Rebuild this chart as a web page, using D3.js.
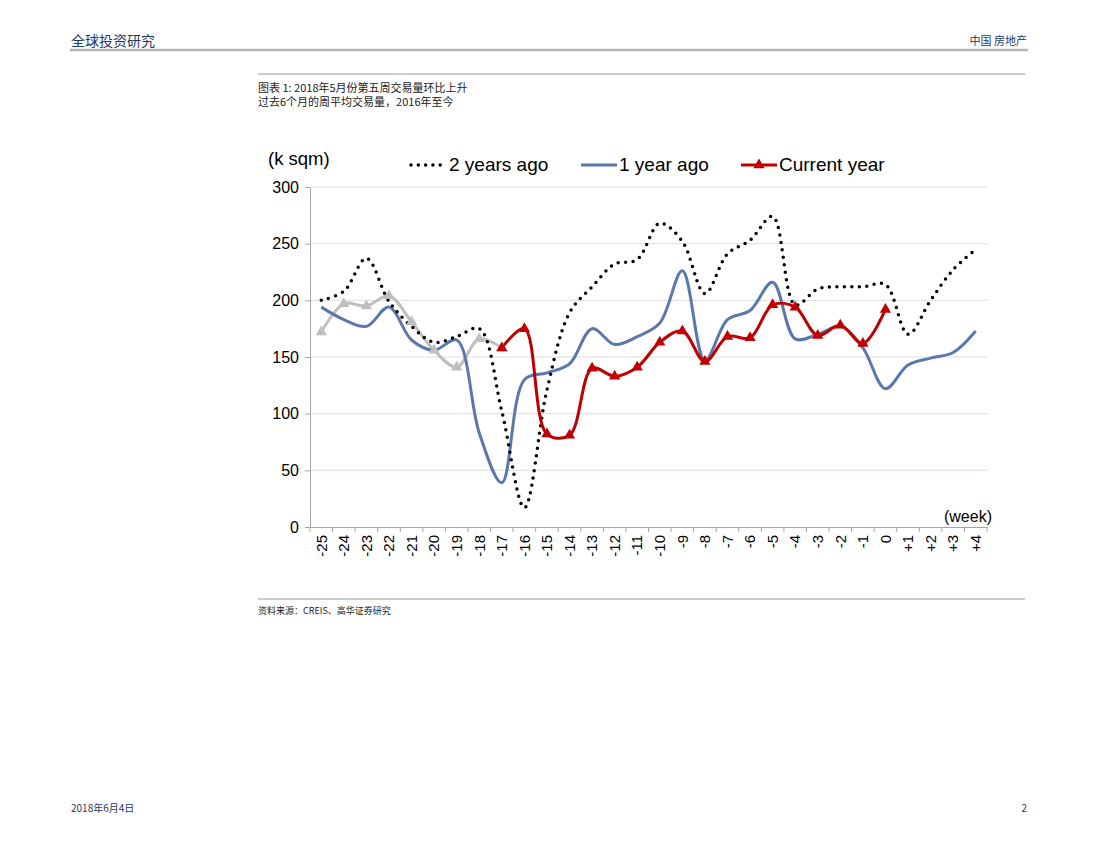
<!DOCTYPE html>
<html>
<head>
<meta charset="utf-8">
<script src="https://cdn.jsdelivr.net/npm/d3@7"></script>
<style>
  body { margin: 0; background: #fff; }
  text { font-family: "Liberation Sans", Arial, sans-serif; }
  .cjk { font-family: "Noto Sans CJK SC", sans-serif; }
</style>
</head>
<body>
<div class="myChart"></div>
<script>
const weeks = ["-25","-24","-23","-22","-21","-20","-19","-18","-17","-16","-15","-14","-13","-12","-11","-10",
               "-9","-8","-7","-6","-5","-4","-3","-2","-1","0","+1","+2","+3","+4"];
const twoYearsAgo = [200,208,237,199,177,163,168,175,102,17,121,189,212,232,236,268,
                     252,206,241,253,274,196,210,212,212,214,170,200,227,245];
const oneYearAgo = [194,183,177,194,165,156,165,83,39,130,136,144,175,161,168,180,
                    226,147,183,191,216,166,170,177,158,122,143,149,154,173];
const currentEarly = [172,197,195,204,181,156,141,166,158];   // -25 .. -17 (grey)
const currentYear = [158,175,82,81,140,133,141,163,173,146,168,167,196,194,169,178,162,192]; // -17 .. 0
const yTicks = [0,50,100,150,200,250,300];

const W = 1100, H = 850;
const svg = d3.select(".myChart").append("svg").attr("width", W).attr("height", H);

// page header / footer
svg.append("text").attr("class", "cjk").attr("x", 71).attr("y", 46)
  .attr("font-size", 14).attr("fill", "#1f3864").text("全球投资研究");
svg.append("text").attr("class", "cjk").attr("x", 1027).attr("y", 45).attr("text-anchor", "end")
  .attr("font-size", 11).attr("fill", "#1f3864").text("中国 房地产");
svg.append("line").attr("x1", 70).attr("x2", 1028).attr("y1", 50).attr("y2", 50)
  .attr("stroke", "#b3b3b3").attr("stroke-width", 2.5);
svg.append("line").attr("x1", 258).attr("x2", 1025).attr("y1", 74).attr("y2", 74)
  .attr("stroke", "#999").attr("stroke-width", 1);
svg.append("text").attr("class", "cjk").attr("x", 258).attr("y", 92)
  .attr("font-size", 11).attr("fill", "#222").text("图表 1: 2018年5月份第五周交易量环比上升");
svg.append("text").attr("class", "cjk").attr("x", 258).attr("y", 106)
  .attr("font-size", 11).attr("fill", "#222").text("过去6个月的周平均交易量，2016年至今");
svg.append("line").attr("x1", 258).attr("x2", 1025).attr("y1", 599).attr("y2", 599)
  .attr("stroke", "#999").attr("stroke-width", 1);
svg.append("text").attr("class", "cjk").attr("x", 258).attr("y", 614)
  .attr("font-size", 9).attr("fill", "#222").text("资料来源：CREIS、高华证券研究");
svg.append("text").attr("class", "cjk").attr("x", 71).attr("y", 812)
  .attr("font-size", 10).attr("fill", "#1f3864").text("2018年6月4日");
svg.append("text").attr("class", "cjk").attr("x", 1027).attr("y", 812).attr("text-anchor", "end")
  .attr("font-size", 10).attr("fill", "#1f3864").text("2");

// chart
const mLeft = 310, mRight = 987, mTop = 187, mBottom = 527;
const x = d3.scaleBand().domain(weeks).range([mLeft, mRight]);
const y = d3.scaleLinear().domain([0, 300]).range([mBottom, mTop]);
const cx = d => x(d) + x.bandwidth() / 2;

const g = svg.append("g");

g.append("g").selectAll("line").data(yTicks.filter(t => t > 0)).enter().append("line")
  .attr("x1", mLeft).attr("x2", mRight).attr("y1", d => y(d)).attr("y2", d => y(d))
  .attr("stroke", "#dcdce6").attr("stroke-width", 1);

const yAxis = g.append("g").attr("transform", "translate(" + mLeft + ",0)")
  .call(d3.axisLeft(y).tickValues(yTicks).tickSize(5).tickPadding(6));
yAxis.selectAll("text").attr("font-size", 16).attr("fill", "#000")
  .style("font-family", "'Liberation Sans', Arial, sans-serif");

const xAxis = g.append("g").attr("transform", "translate(0," + mBottom + ")")
  .call(d3.axisBottom(x).tickSize(0).tickPadding(0));
xAxis.selectAll("text").attr("font-size", 15).attr("fill", "#000")
  .style("font-family", "'Liberation Sans', Arial, sans-serif")
  .attr("transform", "rotate(-90)").attr("text-anchor", "end")
  .attr("x", -8).attr("y", 0).attr("dy", "0.35em");
// boundary ticks
g.append("g").selectAll("line").data(d3.range(weeks.length + 1)).enter().append("line")
  .attr("x1", i => mLeft + i * x.bandwidth()).attr("x2", i => mLeft + i * x.bandwidth())
  .attr("y1", mBottom).attr("y2", mBottom + 5).attr("stroke", "#a6a6a6");
g.selectAll(".domain").attr("stroke", "#a6a6a6");
g.selectAll(".tick line").attr("stroke", "#a6a6a6");

const curve = d3.curveCatmullRom.alpha(0.5);
const line = d3.line().x(d => cx(d.w)).y(d => y(d.v)).curve(curve);
const pts = (vals, start) => vals.map((v, i) => ({ w: weeks[start + i], v: v }));

g.append("path").datum(pts(currentEarly, 0)).attr("d", line)
  .attr("fill", "none").attr("stroke", "#bfbfbf").attr("stroke-width", 3);
g.append("path").datum(pts(oneYearAgo, 0)).attr("d", line)
  .attr("fill", "none").attr("stroke", "#5b78ad").attr("stroke-width", 3);
g.append("path").datum(pts(twoYearsAgo, 0)).attr("d", line)
  .attr("fill", "none").attr("stroke", "#000").attr("stroke-width", 3.5)
  .attr("stroke-linecap", "round").attr("stroke-dasharray", "0,7.5");
g.append("path").datum(pts(currentYear, 8)).attr("d", line)
  .attr("fill", "none").attr("stroke", "#c00000").attr("stroke-width", 3);

const tri = d3.symbol().type(d3.symbolTriangle).size(55);
g.append("g").selectAll("path").data(pts(currentEarly, 0)).enter().append("path")
  .attr("d", tri).attr("fill", "#bfbfbf")
  .attr("transform", d => "translate(" + cx(d.w) + "," + y(d.v) + ")");
g.append("g").selectAll("path").data(pts(currentYear, 8)).enter().append("path")
  .attr("d", tri).attr("fill", "#c00000")
  .attr("transform", d => "translate(" + cx(d.w) + "," + y(d.v) + ")");

// labels
svg.append("text").attr("x", 268).attr("y", 165).attr("font-size", 18.5).text("(k sqm)");
svg.append("text").attr("x", 992).attr("y", 522).attr("text-anchor", "end").attr("font-size", 16).text("(week)");

// legend
const legend = [
  { name: "2 years ago", x0: 410, color: "#000", dash: true },
  { name: "1 year ago", x0: 580, color: "#5b78ad" },
  { name: "Current year", x0: 740, color: "#c00000", marker: true }
];
const lg = svg.append("g").selectAll("g").data(legend).enter().append("g");
lg.append("line").attr("x1", d => d.x0 + 1).attr("x2", d => d.x0 + 37).attr("y1", 165).attr("y2", 165)
  .attr("stroke", d => d.color).attr("stroke-width", d => d.dash ? 3.5 : 3)
  .attr("stroke-linecap", d => d.dash ? "round" : "butt")
  .attr("stroke-dasharray", d => d.dash ? "0,7.3" : null);
lg.filter(d => d.marker).append("path").attr("d", tri).attr("fill", d => d.color)
  .attr("transform", d => "translate(" + (d.x0 + 19) + ",165)");
lg.append("text").attr("x", d => d.x0 + 39).attr("y", 171).attr("font-size", 19).text(d => d.name);
</script>
</body>
</html>
